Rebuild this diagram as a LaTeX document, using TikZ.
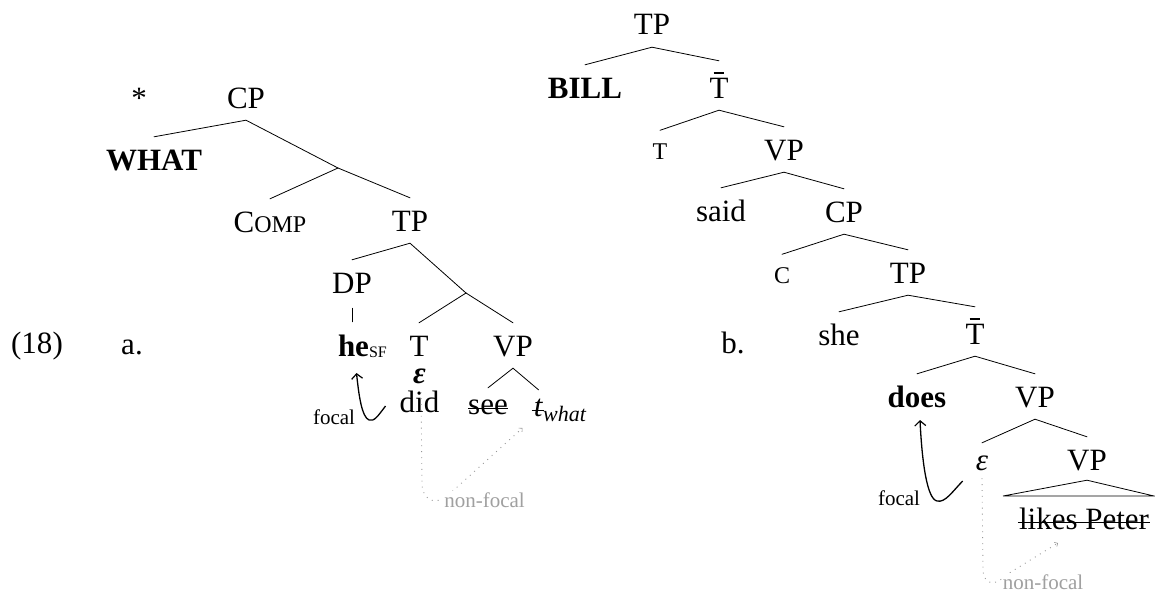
\documentclass[tikz,border=0pt]{standalone}
\usepackage{fontspec}
\setmainfont{Liberation Serif}
\usetikzlibrary{arrows.meta,calc}
\definecolor{dotgray}{RGB}{150,150,150}
\definecolor{labgray}{RGB}{160,160,160}
\newcommand\tbar{\ooalign{T\cr\hidewidth\rule[0.78em]{0.34em}{0.045em}\hidewidth\cr}}
\newcommand\mainsz{\fontsize{31}{36}\selectfont}
\newcommand\scsz{\fontsize{24}{28}\selectfont}
\newcommand\smallsz{\fontsize{21}{25}\selectfont}
\newcommand\treeedge[2]{\draw[branch] ([yshift=-12pt]#1.south) -- ([yshift=12pt]#2.north);}
\begin{document}
\begin{tikzpicture}[x=1pt,y=-1pt,
  tn/.style={inner sep=0pt, text height=21pt, text depth=0pt, anchor=base, font=\mainsz},
  tnx/.style={tn, text height=14pt},
  tnb/.style={tn, text height=25pt},
  tns/.style={tn, text height=16.5pt},
  branch/.style={line width=0.8pt, line cap=round},
  strike/.style={line width=0.9pt},
  focalarrow/.style={line width=1.3pt, -{Straight Barb[length=5pt,width=11pt,line width=1.2pt]}},
  nfarrow/.style={dotgray, line width=0.9pt, dash pattern=on 0.9pt off 5pt, -{Straight Barb[length=2.5pt,width=5pt,line width=0.6pt]}},
  smalllab/.style={font=\smallsz, anchor=base, inner sep=0pt},
  nflab/.style={font=\smallsz, text=labgray, fill=white, inner sep=1pt, anchor=base}
]
\useasboundingbox (0,0) rectangle (1155,594);

% example labels
\node[tn] (ex) at (37,353) {(18)};
\node[tn] (la) at (132,354) {a.};
\node[tn] (lb) at (733,353) {b.};

% ---------- tree a ----------
\node[tn] (star) at (139,108) {*};
\node[tn] (CPa) at (246,108) {CP};
\node[tn, font=\mainsz\bfseries] (what) at (154,170) {WHAT};
\coordinate (b1) at (338,168);
\node[tn] (comp) at (270,232) {C{\scsz OMP}};
\node[tn] (TPa) at (410,231) {TP};
\node[tn] (DPa) at (352,293) {DP};
\coordinate (b2) at (466,293);
\node[tn] (he) at (353.5,356) {\textbf{he}\rlap{\raisebox{-1pt}{\fontsize{16}{18}\selectfont SF}}};
\node[tn] (Ta) at (419,356) {T};
\node[tn, text height=15pt] (epsa) at (419.5,383) {\textbf{\textit{ε}}};
\node[tn] (did) at (419.5,412) {did};
\node[tn] (VPa) at (513,356) {VP};
\node[tnx] (see) at (488,414) {see};
\node[tnx] (ta) at (538.5,416) {\textit{t}\rlap{\raisebox{-5pt}{\fontsize{22}{26}\selectfont\itshape what}}};

\draw[branch] ([yshift=-12pt]CPa.south) -- ([yshift=12pt]what.north);
\draw[branch] ([yshift=-12pt]CPa.south) -- (b1);
\draw[branch] (b1) -- ([yshift=12pt]comp.north);
\draw[branch] (b1) -- ([yshift=12pt]TPa.north);
\treeedge{TPa}{DPa}
\draw[branch] ([yshift=-12pt]TPa.south) -- (b2);
\draw[branch] (b2) -- ([yshift=12pt]Ta.north);
\draw[branch] (b2) -- ([yshift=12pt]VPa.north);
\draw[branch] ([yshift=-15pt]DPa.south) -- ([yshift=13pt]DPa.south |- he.north);
\treeedge{VPa}{see}
\treeedge{VPa}{ta}

\draw[strike] ([yshift=6pt]see.base west) -- ([yshift=6pt]see.base east);
\draw[strike] ([shift={(-2,-6)}]ta.base west) -- ([shift={(1,-6)}]ta.base east);

% focal arrow a
\draw[focalarrow] ([shift={(-14,-6)}]did.base west) .. controls (378,416) and (374,422) .. (369,420)
  .. controls (362,417) and (359,397) .. ([shift={(3,17)}]he.base);
\node[smalllab] (foca) at (334,424) {focal};

% non-focal a
\draw[nfarrow] ([shift={(1.5,-20)}]did.south) -- (422,485) .. controls (423,498) and (432,505) .. (445,498)
  -- ([shift={(-16,12)}]ta.base);
\node[nflab] (nfa) at (484.5,507) {non-focal};

% ---------- tree b ----------
\node[tn] (TPb) at (652,35) {TP};
\node[tn, font=\mainsz\bfseries] (bill) at (585,98) {BILL};
\node[tnb] (Tb1) at (719,98) {\tbar};
\node[tns] (Tsm) at (660,159) {\scsz T};
\node[tn] (VPb) at (784,160) {VP};
\node[tn] (said) at (721,221) {said};
\node[tn] (CPb) at (844,222) {CP};
\node[tns] (Csm) at (782,283) {\scsz C};
\node[tn] (TPc) at (908,283) {TP};
\node[tn] (she) at (839,345) {she};
\node[tnb] (Tb2) at (975,344) {\tbar};
\node[tn, font=\mainsz\bfseries] (does) at (917,407) {does};
\node[tn] (VPc) at (1035,407) {VP};
\node[tn, text height=15pt] (epsb) at (982,470) {\textit{ε}};
\node[tn] (VPd) at (1087,470) {VP};
\node[tnx] (lp) at (1084,529) {likes Peter};

\treeedge{TPb}{bill}
\treeedge{TPb}{Tb1}
\treeedge{Tb1}{Tsm}
\treeedge{Tb1}{VPb}
\treeedge{VPb}{said}
\treeedge{VPb}{CPb}
\treeedge{CPb}{Csm}
\treeedge{CPb}{TPc}
\treeedge{TPc}{she}
\treeedge{TPc}{Tb2}
\treeedge{Tb2}{does}
\treeedge{Tb2}{VPc}
\treeedge{VPc}{epsb}
\treeedge{VPc}{VPd}

\coordinate (trl) at (1003,496);
\coordinate (trr) at (1154,496);
\draw[branch] (trl) -- ([yshift=-10pt]VPd.south) -- (trr) -- cycle;
\draw[strike] ([shift={(-1,-7)}]lp.base west) -- ([shift={(1,-7)}]lp.base east);

% focal arrow b
\draw[focalarrow] ([shift={(-13,11)}]epsb.base west) .. controls (952,492) and (945,503) .. (937,501)
  .. controls (927,499) and (922,462) .. ([shift={(3,13)}]does.base);
\node[smalllab] (focb) at (899,505) {focal};

% non-focal b
\draw[nfarrow] ([yshift=-8pt]epsb.south) -- (983,570) .. controls (984,586) and (996,586) .. (1006,575)
  -- ([shift={(-26,14)}]lp.base);
\node[nflab] (nfb) at (1043,589) {non-focal};
\end{tikzpicture}
\end{document}
